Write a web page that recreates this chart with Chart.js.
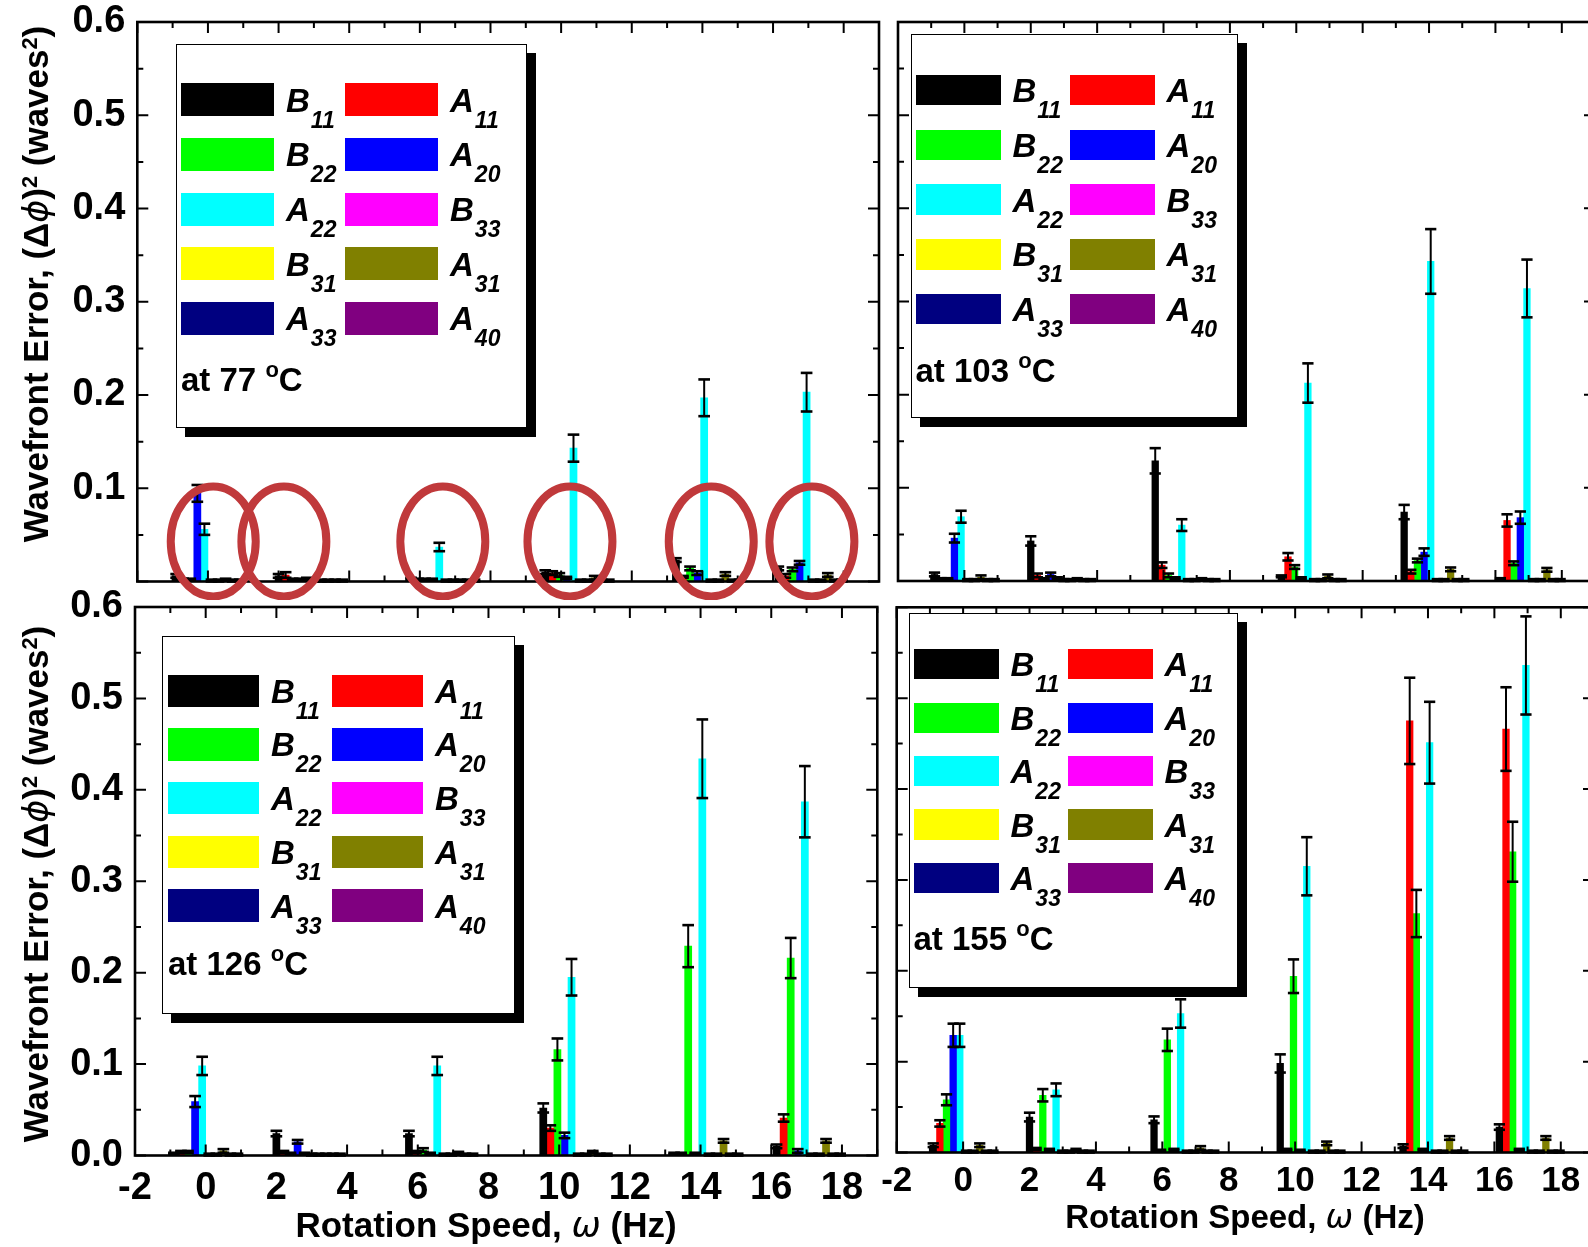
<!DOCTYPE html>
<html>
<head>
<meta charset="utf-8">
<script src="https://cdn.jsdelivr.net/npm/chart.js@4.4.0/dist/chart.umd.min.js"></script>
<style>
  html, body { margin: 0; padding: 0; background: #fff; }
  #figure { position: relative; width: 1588px; height: 1247px; overflow: hidden;
            font-family: 'Liberation Sans', Arial, sans-serif; color: #000; }
  #figure canvas { position: absolute; }
  .axis-title { position: absolute; font-weight: bold; white-space: nowrap; line-height: 1;
                transform: translate(-50%, -50%); }
  .axis-title.vertical { transform: translate(-50%, -50%) rotate(-90deg); }
  .axis-title .sup { font-size: 0.62em; position: relative; top: -0.5em; }
  .axis-title i { font-family: 'DejaVu Sans', 'Liberation Sans', sans-serif; font-weight: normal; }
  .legend { position: absolute; background: #fff; border: 1.5px solid #000; box-sizing: border-box;
            box-shadow: 9px 9px 0 #000; }
  .legend .swatch { position: absolute; }
  .legend .name { position: absolute; font: italic bold 33px 'Liberation Sans', Arial, sans-serif;
                  line-height: 33px; white-space: nowrap; }
  .legend .name span { font-size: 23px; position: relative; top: 16px; margin-left: 1px; }
  .legend .temp { position: absolute; font: bold 33px 'Liberation Sans', Arial, sans-serif;
                  line-height: 33px; white-space: nowrap; }
  .legend .temp span { font-size: 22px; position: relative; top: -14px; }
</style>
</head>
<body>
<div id="figure"></div>
<script>
// rotation speeds (Hz) of the six measurement groups
const speeds = [0, 2.9, 6.65, 10.45, 14.15, 17.05];

// aberration terms, in bar order inside each group
const terms = ['B11', 'A11', 'B22', 'A20', 'A22', 'B33', 'B31', 'A31', 'A33', 'A40'];
const termColors = ['#000000', '#ff0000', '#00ff00', '#0000ff', '#00ffff',
                    '#ff00ff', '#ffff00', '#808000', '#000080', '#800080'];

// bar width in Hz, so that ten terms fill a 2 Hz slot
const barWidthHz = 0.2;

// wavefront error (waves^2), one row per term
const val77 = [
  [0.006, 0.006, 0.003, 0.010, 0.023, 0.014],
  [0.002, 0.007, 0.002, 0.009, 0.005, 0.006],
  [0.002, 0.002, 0.002, 0.007, 0.014, 0.013],
  [0.0945, 0.002, 0.002, 0.004, 0.009, 0.020],
  [0.056, 0.003, 0.037, 0.143, 0.197, 0.203],
  [0.001, 0.001, 0.001, 0.001, 0.001, 0.001],
  [0.001, 0.001, 0.001, 0.001, 0.001, 0.001],
  [0.002, 0.001, 0.001, 0.004, 0.008, 0.007],
  [0.001, 0.001, 0.001, 0.001, 0.001, 0.001],
  [0.001, 0.001, 0.001, 0.001, 0.001, 0.001]
];
const err77 = [
  [0.002, 0.002, 0.001, 0.002, 0.002, 0.002],
  [0.001, 0.003, 0.001, 0.002, 0.001, 0.002],
  [0.001, 0.001, 0.001, 0.002, 0.002, 0.002],
  [0.009, 0.001, 0.001, 0.001, 0.002, 0.002],
  [0.006, 0.001, 0.0045, 0.0145, 0.0197, 0.0207],
  [0.001, 0.001, 0.001, 0.001, 0.001, 0.001],
  [0.001, 0.001, 0.001, 0.001, 0.001, 0.001],
  [0.001, 0.001, 0.001, 0.002, 0.002, 0.002],
  [0.001, 0.001, 0.001, 0.001, 0.001, 0.001],
  [0.001, 0.001, 0.001, 0.001, 0.001, 0.001]
];

const val103 = [
  [0.007, 0.043, 0.129, 0.005, 0.074, 0.002],
  [0.002, 0.006, 0.017, 0.026, 0.010, 0.065],
  [0.002, 0.002, 0.006, 0.015, 0.022, 0.019],
  [0.046, 0.007, 0.003, 0.003, 0.031, 0.068],
  [0.069, 0.003, 0.060, 0.2125, 0.343, 0.314],
  [0.001, 0.001, 0.001, 0.001, 0.001, 0.001],
  [0.001, 0.001, 0.001, 0.001, 0.001, 0.001],
  [0.004, 0.002, 0.002, 0.005, 0.0125, 0.012],
  [0.001, 0.001, 0.001, 0.001, 0.001, 0.001],
  [0.001, 0.001, 0.001, 0.001, 0.001, 0.001]
];
const err103 = [
  [0.002, 0.005, 0.0136, 0.001, 0.0077, 0.001],
  [0.001, 0.002, 0.003, 0.004, 0.002, 0.0066],
  [0.001, 0.001, 0.002, 0.002, 0.002, 0.002],
  [0.0047, 0.002, 0.001, 0.001, 0.004, 0.0066],
  [0.0064, 0.001, 0.0063, 0.0211, 0.0347, 0.031],
  [0.001, 0.001, 0.001, 0.001, 0.001, 0.001],
  [0.001, 0.001, 0.001, 0.001, 0.001, 0.001],
  [0.002, 0.001, 0.001, 0.002, 0.002, 0.002],
  [0.001, 0.001, 0.001, 0.001, 0.001, 0.001],
  [0.001, 0.001, 0.001, 0.001, 0.001, 0.001]
];

const val126 = [
  [0.002, 0.024, 0.024, 0.052, 0.002, 0.010],
  [0.004, 0.004, 0.004, 0.030, 0.002, 0.041],
  [0.004, 0.002, 0.006, 0.116, 0.229, 0.216],
  [0.059, 0.015, 0.002, 0.022, 0.002, 0.005],
  [0.098, 0.002, 0.098, 0.195, 0.434, 0.387],
  [0.001, 0.001, 0.001, 0.001, 0.001, 0.001],
  [0.001, 0.001, 0.001, 0.001, 0.001, 0.001],
  [0.005, 0.001, 0.003, 0.004, 0.016, 0.016],
  [0.001, 0.001, 0.001, 0.001, 0.001, 0.001],
  [0.001, 0.001, 0.001, 0.001, 0.001, 0.001]
];
const err126 = [
  [0.001, 0.003, 0.003, 0.005, 0.001, 0.002],
  [0.001, 0.001, 0.001, 0.003, 0.001, 0.004],
  [0.001, 0.001, 0.002, 0.012, 0.023, 0.022],
  [0.006, 0.002, 0.001, 0.003, 0.001, 0.002],
  [0.010, 0.001, 0.010, 0.020, 0.043, 0.039],
  [0.001, 0.001, 0.001, 0.001, 0.001, 0.001],
  [0.001, 0.001, 0.001, 0.001, 0.001, 0.001],
  [0.002, 0.001, 0.001, 0.001, 0.002, 0.002],
  [0.001, 0.001, 0.001, 0.001, 0.001, 0.001],
  [0.001, 0.001, 0.001, 0.001, 0.001, 0.001]
];

const val155 = [
  [0.008, 0.039, 0.036, 0.098, 0.007, 0.028],
  [0.032, 0.004, 0.002, 0.003, 0.475, 0.466],
  [0.058, 0.063, 0.124, 0.194, 0.263, 0.331],
  [0.129, 0.003, 0.003, 0.002, 0.003, 0.003],
  [0.129, 0.069, 0.153, 0.315, 0.451, 0.536],
  [0.001, 0.001, 0.001, 0.001, 0.001, 0.001],
  [0.001, 0.001, 0.001, 0.001, 0.001, 0.001],
  [0.008, 0.003, 0.005, 0.010, 0.016, 0.016],
  [0.001, 0.001, 0.001, 0.001, 0.001, 0.001],
  [0.001, 0.001, 0.001, 0.001, 0.001, 0.001]
];
const err155 = [
  [0.002, 0.0048, 0.0037, 0.010, 0.002, 0.003],
  [0.0035, 0.001, 0.001, 0.001, 0.0475, 0.046],
  [0.006, 0.0068, 0.0123, 0.0185, 0.026, 0.033],
  [0.0128, 0.001, 0.001, 0.001, 0.001, 0.001],
  [0.0128, 0.007, 0.0156, 0.032, 0.045, 0.054],
  [0.001, 0.001, 0.001, 0.001, 0.001, 0.001],
  [0.001, 0.001, 0.001, 0.001, 0.001, 0.001],
  [0.002, 0.001, 0.002, 0.002, 0.002, 0.002],
  [0.001, 0.001, 0.001, 0.001, 0.001, 0.001],
  [0.001, 0.001, 0.001, 0.001, 0.001, 0.001]
];

// groups highlighted with a ring in the 77 C panel (x in Hz, y in waves^2)
const ringX = [0.15, 2.15, 6.65, 10.25, 14.25, 17.1];
const ringY = 0.043;

Chart.defaults.font.family = "'Liberation Sans', Arial, sans-serif";
Chart.defaults.font.weight = 'bold';
Chart.defaults.color = '#000';

// symmetric error bars on top of every bar
const errorBars = {
  id: 'errorBars',
  afterDatasetsDraw(chart) {
    const ctx = chart.ctx;
    const yScale = chart.scales.y;
    ctx.save();
    ctx.strokeStyle = '#000';
    chart.data.datasets.forEach((ds, i) => {
      chart.getDatasetMeta(i).data.forEach((bar, j) => {
        const v = ds.data[j].y;
        const e = ds.errors[j];
        const top = yScale.getPixelForValue(v + e);
        const bot = yScale.getPixelForValue(Math.max(0, v - e));
        const half = bar.width / 2 + 2.3;
        ctx.lineWidth = 2;
        ctx.beginPath();
        ctx.moveTo(bar.x, top);
        ctx.lineTo(bar.x, bot);
        ctx.stroke();
        ctx.lineWidth = 2.6;
        [top, bot].forEach(py => {
          ctx.beginPath();
          ctx.moveTo(bar.x - half, py);
          ctx.lineTo(bar.x + half, py);
          ctx.stroke();
        });
      });
    });
    ctx.restore();
  }
};

// closed frame with inward ticks on all four sides
const frameTicks = {
  id: 'frameTicks',
  afterDatasetsDraw(chart) {
    const { ctx, chartArea: a, scales: { x, y } } = chart;
    ctx.save();
    ctx.strokeStyle = '#000';
    ctx.lineWidth = 2;
    ctx.beginPath();
    for (let v = Math.ceil(x.min); v <= x.max; v++) {
      const px = x.getPixelForValue(v);
      const len = v % 2 === 0 ? 11 : 6;
      ctx.moveTo(px, a.bottom); ctx.lineTo(px, a.bottom - len);
      ctx.moveTo(px, a.top); ctx.lineTo(px, a.top + len);
    }
    for (let k = 0; k <= 12; k++) {
      const py = y.getPixelForValue(k * 0.05);
      const len = k % 2 === 0 ? 11 : 6;
      ctx.moveTo(a.left, py); ctx.lineTo(a.left + len, py);
      ctx.moveTo(a.right, py); ctx.lineTo(a.right - len, py);
    }
    ctx.stroke();
    ctx.lineWidth = 2.6;
    ctx.strokeRect(a.left, a.top, a.right - a.left, a.bottom - a.top);
    ctx.restore();
  }
};

// red rings around the low-speed groups
const rings = {
  id: 'rings',
  afterDraw(chart, args, opts) {
    if (!opts.xs) return;
    const { ctx, scales: { x, y } } = chart;
    ctx.save();
    ctx.strokeStyle = '#c0393b';
    ctx.lineWidth = 8;
    opts.xs.forEach(v => {
      ctx.beginPath();
      ctx.ellipse(x.getPixelForValue(v), y.getPixelForValue(opts.y), 42.5, 55, 0, 0, Math.PI * 2);
      ctx.stroke();
    });
    ctx.restore();
  }
};

const fig = document.getElementById('figure');

function makePanel(p) {
  const canvas = document.createElement('canvas');
  canvas.width = p.w;
  canvas.height = p.h;
  canvas.style.left = p.x + 'px';
  canvas.style.top = p.y + 'px';
  fig.appendChild(canvas);

  return new Chart(canvas.getContext('2d'), {
    type: 'bar',
    data: {
      datasets: terms.map((name, i) => ({
        label: name,
        data: speeds.map((s, j) => ({ x: s, y: p.values[i][j] })),
        errors: p.errors[i],
        backgroundColor: termColors[i],
        borderWidth: 0,
        // pixel width of barWidthHz on the x scale
        barThickness: c => {
          const x = c.chart.scales.x;
          return x.getPixelForValue(barWidthHz) - x.getPixelForValue(0);
        }
      }))
    },
    options: {
      responsive: false,
      animation: false,
      layout: { padding: p.pad },
      plugins: {
        legend: { display: false },
        tooltip: { enabled: false },
        rings: p.rings || {}
      },
      scales: {
        x: {
          type: 'linear',
          min: -2,
          max: 19,
          offset: false,
          grid: { display: false, drawTicks: false },
          border: { display: false },
          ticks: {
            display: p.xLabels,
            stepSize: 1,
            autoSkip: false,
            maxRotation: 0,
            padding: p.xPad || 0,
            font: { size: p.xFont || 38, weight: 'bold' },
            callback: v => (v % 2 === 0 ? String(v) : null)
          },
          afterFit: s => {
            s.height = p.xHeight;
            s.paddingLeft = 0;
            s.paddingRight = 0;
          }
        },
        y: {
          min: 0,
          max: 0.6,
          grid: { display: false, drawTicks: false },
          border: { display: false },
          ticks: {
            display: p.yLabels,
            stepSize: 0.1,
            padding: 12,
            font: { size: 38, weight: 'bold' },
            callback: v => (p.hideZero && v === 0 ? null : v.toFixed(1))
          },
          afterFit: s => {
            s.width = p.yWidth;
            s.paddingTop = 0;
            s.paddingBottom = 0;
          }
        }
      }
    },
    plugins: [errorBars, frameTicks, rings]
  });
}

makePanel({ x: 0, y: 0, w: 900, h: 600, values: val77, errors: err77,
  pad: { top: 22, right: 21, bottom: 18.5, left: 0 }, yWidth: 137.3, xHeight: 0,
  xLabels: false, yLabels: true, hideZero: true, rings: { xs: ringX, y: ringY } });
makePanel({ x: 880, y: 0, w: 730, h: 600, values: val103, errors: err103,
  pad: { top: 22, right: 15, bottom: 19, left: 0 }, yWidth: 18, xHeight: 0,
  xLabels: false, yLabels: false });
makePanel({ x: 0, y: 590, w: 900, h: 657, values: val126, errors: err126,
  pad: { top: 17, right: 22.7, bottom: 0, left: 0 }, yWidth: 135, xHeight: 91.5,
  xLabels: true, xPad: 10, xFont: 38, yLabels: true });
makePanel({ x: 880, y: 590, w: 730, h: 657, values: val155, errors: err155,
  pad: { top: 17.3, right: 16, bottom: 0, left: 0 }, yWidth: 16.7, xHeight: 94.5,
  xLabels: true, xPad: 8, xFont: 35, yLabels: false });

// two-column legend boxes with the temperature note
function addLegend(L) {
  const box = document.createElement('div');
  box.className = 'legend';
  Object.assign(box.style, { left: L.left + 'px', top: L.top + 'px',
    width: L.width + 'px', height: L.height + 'px' });
  terms.forEach((name, i) => {
    const col = i % 2, row = Math.floor(i / 2);
    const sx = col === 0 ? L.col1 : L.col2;
    const sy = L.row0 + row * L.step;
    const sw = document.createElement('div');
    sw.className = 'swatch';
    Object.assign(sw.style, { left: sx + 'px', top: sy + 'px', width: L.swW + 'px',
      height: L.swH + 'px', background: termColors[i] });
    box.appendChild(sw);
    const lab = document.createElement('div');
    lab.className = 'name';
    lab.style.left = (sx + L.swW + 12) + 'px';
    lab.style.top = (sy + L.swH / 2 - 16) + 'px';
    lab.innerHTML = name[0] + '<span>' + name.slice(1) + '</span>';
    box.appendChild(lab);
  });
  const t = document.createElement('div');
  t.className = 'temp';
  t.style.left = L.col1 + 'px';
  t.style.top = L.tempTop + 'px';
  t.innerHTML = 'at ' + L.temp + ' <span>o</span>C';
  box.appendChild(t);
  fig.appendChild(box);
}

addLegend({ left: 176, top: 44, width: 351, height: 384, col1: 4, col2: 168, swW: 93, swH: 33,
  row0: 38.3, step: 54.6, tempTop: 318, temp: '77' });
addLegend({ left: 910.5, top: 34.4, width: 327, height: 384, col1: 4, col2: 158, swW: 85, swH: 30.5,
  row0: 39.6, step: 54.7, tempTop: 319, temp: '103' });
addLegend({ left: 162, top: 636, width: 352.5, height: 378, col1: 5, col2: 169, swW: 91, swH: 32.5,
  row0: 37.5, step: 53.7, tempTop: 310, temp: '126' });
addLegend({ left: 908.5, top: 612.7, width: 329, height: 375, col1: 4, col2: 158, swW: 85, swH: 30.3,
  row0: 35.5, step: 53.4, tempTop: 308, temp: '155' });

// axis titles
function addTitle(html, cx, cy, size, vertical) {
  const d = document.createElement('div');
  d.className = 'axis-title' + (vertical ? ' vertical' : '');
  Object.assign(d.style, { left: cx + 'px', top: cy + 'px', fontSize: size + 'px' });
  d.innerHTML = html;
  fig.appendChild(d);
}
const yTitle = 'Wavefront Error, (&Delta;<i>&#981;</i>)<span class="sup">2</span> (waves<span class="sup">2</span>)';
const xTitle = 'Rotation Speed, <i>&omega;</i> (Hz)';
addTitle(yTitle, 36, 284, 35, true);
addTitle(yTitle, 36, 884, 35, true);
addTitle(xTitle, 486, 1225, 35, false);
addTitle(xTitle, 1245, 1216, 33, false);
</script>
</body>
</html>
